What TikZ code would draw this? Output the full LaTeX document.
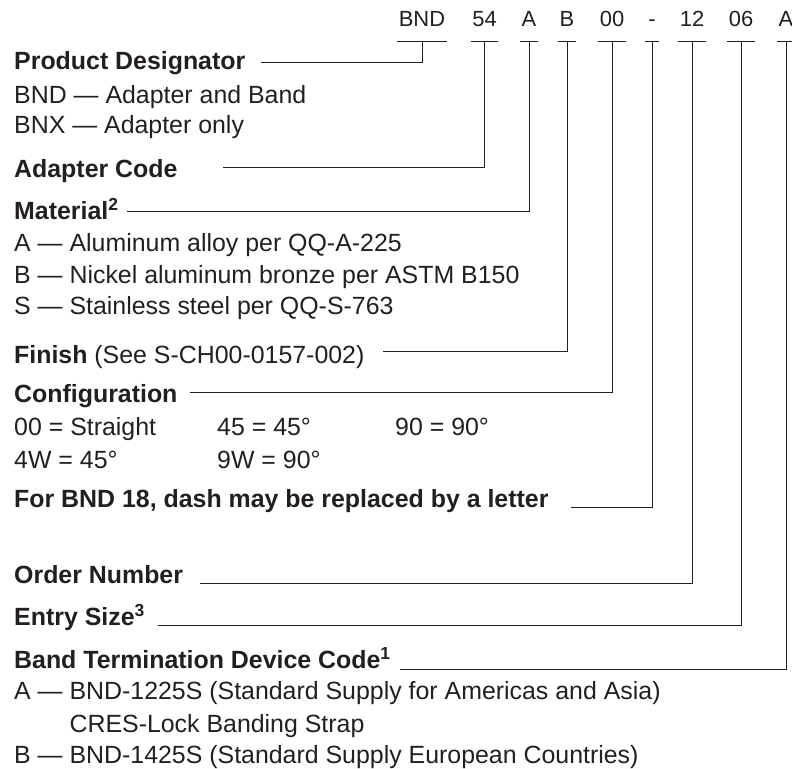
\documentclass[tikz,border=0pt]{standalone}
\usepackage{fontspec}
\setmainfont{Liberation Sans}
\definecolor{ink}{HTML}{231F20}
\tikzset{
  code/.style={anchor=base, inner xsep=1.5bp, inner ysep=0pt, minimum width=14bp, font=\fontsize{22}{26}\selectfont},
  head/.style={anchor=base west, inner sep=0pt, font=\fontsize{25}{30}\selectfont\bfseries},
  body/.style={anchor=base west, inner sep=0pt, font=\fontsize{25}{30}\selectfont},
  lead/.style={draw=ink, line width=1bp},
}
\begin{document}
\begin{tikzpicture}[x=1bp, y=-1bp, color=ink]
    \useasboundingbox (0,0) rectangle (792,769);

    % Part number
    \node[code] (cbnd) at (422,27) {BND};
    \node[code] (cadapt) at (484.5,27) {54};
    \node[code] (cmat) at (529,27) {A};
    \node[code] (cfin) at (567,27) {B};
    \node[code] (ccfg) at (612,27) {00};
    \node[code] (cdash) at (652,27) {-};
    \node[code] (cord) at (692,27) {12};
    \node[code] (cent) at (741,27) {06};
    \node[code] (cband) at (786,27) {A};

    % Underlines
    \draw[lead] (cbnd.west |- 0,42) -- (cbnd.east |- 0,42);
    \draw[lead] (cadapt.west |- 0,42) -- (cadapt.east |- 0,42);
    \draw[lead] (cmat.west |- 0,42) -- (cmat.east |- 0,42);
    \draw[lead] (cfin.west |- 0,42) -- (cfin.east |- 0,42);
    \draw[lead] (ccfg.west |- 0,42) -- (ccfg.east |- 0,42);
    \draw[lead] (cdash.west |- 0,42) -- (cdash.east |- 0,42);
    \draw[lead] (cord.west |- 0,42) -- (cord.east |- 0,42);
    \draw[lead] (cent.west |- 0,42) -- (cent.east |- 0,42);
    \draw[lead] (cband.west |- 0,42) -- (cband.east |- 0,42);

    % Headings and entries
    \node[head] (lprod) at (14,70) {Product Designator};
    \node[body] (lbnd) at (14,103) {BND — Adapter and Band};
    \node[body] (lbnx) at (14,133) {BNX — Adapter only};
    \node[head] (ladapt) at (14,177) {Adapter Code};
    \node[head] (lmat) at (14,219) {Material\textsuperscript{2}};
    \node[body] (lmata) at (14,251) {A — Aluminum alloy per QQ-A-225};
    \node[body] (lmatb) at (14,283) {B — Nickel aluminum bronze per ASTM B150};
    \node[body] (lmats) at (14,314) {S — Stainless steel per QQ-S-763};
    \node[head] (lfin) at (14,363) {Finish \mdseries(See S-CH00-0157-002)};
    \node[head] (lcfg) at (14,402) {Configuration};
    \node[body] (lcfga) at (14,435) {00 = Straight};
    \node[body] (lcfgb) at (217,435) {45 = 45°};
    \node[body] (lcfgc) at (395,435) {90 = 90°};
    \node[body] (lcfgd) at (14,468) {4W = 45°};
    \node[body] (lcfge) at (217,468) {9W = 90°};
    \node[head] (ldash) at (14,507) {For BND 18, dash may be replaced by a letter};
    \node[head] (lord) at (14,583) {Order Number};
    \node[head] (lent) at (14,625) {Entry Size\textsuperscript{3}};
    \node[head] (lband) at (14,668) {Band Termination Device Code\textsuperscript{1}};
    \node[body] (lbanda) at (14,699) {A — BND-1225S (Standard Supply for Americas and Asia)};
    \node[body] (lbandc) at (14,732) {\phantom{A — }CRES-Lock Banding Strap};
    \node[body] (lbandb) at (14,763) {B — BND-1425S (Standard Supply European Countries)};

    % Line ends
    \coordinate (eprod) at (261,63);
    \coordinate (eadapt) at (223,167);
    \coordinate (emat) at (127,211);
    \coordinate (efin) at (383,351);
    \coordinate (ecfg) at (190,392);
    \coordinate (edash) at (571,507);
    \coordinate (eord) at (200,583);
    \coordinate (eent) at (158,625);
    \coordinate (eband) at (400,669);

    % Leaders
    \draw[lead] (cbnd.center |- 0,42) |- (eprod);
    \draw[lead] (cadapt.center |- 0,42) |- (eadapt);
    \draw[lead] (cmat.center |- 0,42) |- (emat);
    \draw[lead] (cfin.center |- 0,42) |- (efin);
    \draw[lead] (ccfg.center |- 0,42) |- (ecfg);
    \draw[lead] (cdash.center |- 0,42) |- (edash);
    \draw[lead] (cord.center |- 0,42) |- (eord);
    \draw[lead] (cent.center |- 0,42) |- (eent);
    \draw[lead] (cband.center |- 0,42) |- (eband);
\end{tikzpicture}
\end{document}
